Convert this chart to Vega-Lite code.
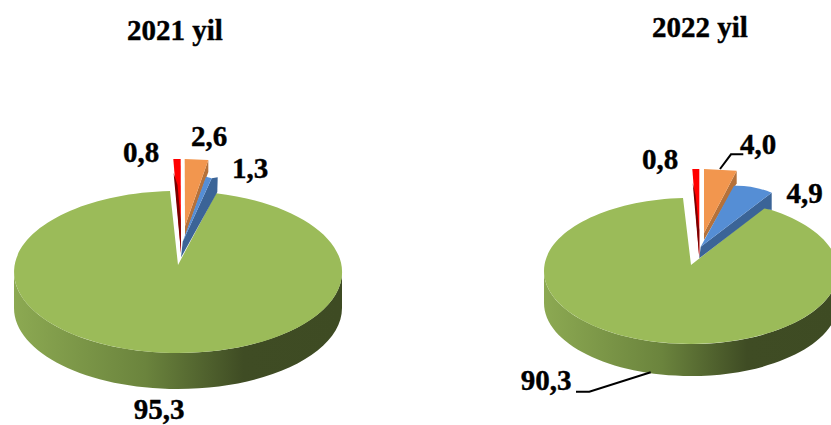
{"$schema":"https://vega.github.io/schema/vega-lite/v6.json","width":831,"height":425,"padding":0,"autosize":"none","background":"white","view":{"stroke":null},
"data":{"values":[
{"year":"2021 yil","category":"s1","value":95.3,"label":"95,3"},
{"year":"2021 yil","category":"s2","value":1.3,"label":"1,3"},
{"year":"2021 yil","category":"s3","value":2.6,"label":"2,6"},
{"year":"2021 yil","category":"s4","value":0.8,"label":"0,8"},
{"year":"2022 yil","category":"s1","value":90.3,"label":"90,3"},
{"year":"2022 yil","category":"s2","value":4.9,"label":"4,9"},
{"year":"2022 yil","category":"s3","value":4.0,"label":"4,0"},
{"year":"2022 yil","category":"s4","value":0.8,"label":"0,8"}]},
"encoding":{"x":{"field":"year","type":"nominal","axis":null,"scale":{"domain":["2021 yil","2022 yil"],"range":[178,691],"padding":0}},"y":{"field":"year","type":"nominal","axis":null,"scale":{"domain":["2021 yil","2022 yil"],"range":[265,265],"padding":0}}},
"layer":[
{"transform":[{"filter":"datum.year=='2021 yil'&&datum.category=='s1'"}],"mark":{"type":"point","filled":true,"opacity":1,"size":4,"strokeWidth":0,"fill":{"gradient":"linear","x1":0,"x2":1,"y1":0,"y2":0,"stops":[{"offset":0,"color":"#8CA952"},{"offset":0.4,"color":"#6B843D"},{"offset":0.7,"color":"#3F4C24"},{"offset":1,"color":"#3E4B23"}]},"shape":"M-164 7 L-164 43 A164 81 0 0 0 164 43 L164 7 A164 81 0 0 1 -164 7 Z"}},
{"transform":[{"filter":"datum.year=='2021 yil'&&datum.category=='s1'"}],"mark":{"type":"point","filled":true,"opacity":1,"size":4,"strokeWidth":0,"fill":"#9BBB59","shape":"M0 0 L-8 -73.9 A164 81 0 1 0 38 -71.8 Z"}},
{"transform":[{"filter":"datum.year=='2021 yil'&&datum.category=='s4'"}],"mark":{"type":"point","filled":true,"opacity":1,"size":4,"strokeWidth":0,"fill":"#FF0000","shape":"M-4.7 -106 L2.7 -106 L3 -12 Z"}},
{"transform":[{"filter":"datum.year=='2021 yil'&&datum.category=='s4'"}],"mark":{"type":"point","filled":true,"opacity":1,"size":4,"strokeWidth":0,"fill":"#7A0000","shape":"M-4.4 -92 L-0.5 -80 L2.7 -45 L3 -12 Z"}},
{"transform":[{"filter":"datum.year=='2021 yil'&&datum.category=='s3'"}],"mark":{"type":"point","filled":true,"opacity":1,"size":4,"strokeWidth":0,"fill":"#B5713A","shape":"M30.3 -105 L30.3 -93 L7 -29 L7 -39 Z"}},
{"transform":[{"filter":"datum.year=='2021 yil'&&datum.category=='s3'"}],"mark":{"type":"point","filled":true,"opacity":1,"size":4,"strokeWidth":0,"fill":"#F2964E","shape":"M6.7 -106 L30.3 -105 L7 -39 Z"}},
{"transform":[{"filter":"datum.year=='2021 yil'&&datum.category=='s2'"}],"mark":{"type":"point","filled":true,"opacity":1,"size":4,"strokeWidth":0,"fill":"#3B6497","shape":"M4.7 -23.3 L33.7 -86.7 L39.7 -87.7 L39.3 -73 L3 -7.5 Z"}},
{"transform":[{"filter":"datum.year=='2021 yil'&&datum.category=='s2'"}],"mark":{"type":"point","filled":true,"opacity":1,"size":4,"strokeWidth":0,"fill":"#558ED5","shape":"M4.7 -23.3 L28 -88.3 L33.7 -86.7 Z"}},
{"transform":[{"filter":"datum.year=='2022 yil'&&datum.category=='s1'"}],"mark":{"type":"point","filled":true,"opacity":1,"size":4,"strokeWidth":0,"fill":{"gradient":"linear","x1":0,"x2":1,"y1":0,"y2":0,"stops":[{"offset":0,"color":"#8CA952"},{"offset":0.4,"color":"#6B843D"},{"offset":0.69,"color":"#3F4C24"},{"offset":1,"color":"#3E4B23"}]},"shape":"M-147 6 L-147 38 A147 73 0 0 0 147 38 L147 6 A147 73 0 0 1 -147 6 Z"}},
{"transform":[{"filter":"datum.year=='2022 yil'&&datum.category=='s1'"}],"mark":{"type":"point","filled":true,"opacity":1,"size":4,"strokeWidth":0,"fill":"#9BBB59","shape":"M0 0 L-8 -66.89 A147 73 0 1 0 73 -57.36 Z"}},
{"transform":[{"filter":"datum.year=='2022 yil'&&datum.category=='s4'"}],"mark":{"type":"point","filled":true,"opacity":1,"size":4,"strokeWidth":0,"fill":"#FF0000","shape":"M1.3 -96 L8.3 -96 L8.3 -7 Z"}},
{"transform":[{"filter":"datum.year=='2022 yil'&&datum.category=='s4'"}],"mark":{"type":"point","filled":true,"opacity":1,"size":4,"strokeWidth":0,"fill":"#7A0000","shape":"M1.7 -82 L4.5 -70 L8.3 -35 L8.3 -7 Z"}},
{"transform":[{"filter":"datum.year=='2022 yil'&&datum.category=='s3'"}],"mark":{"type":"point","filled":true,"opacity":1,"size":4,"strokeWidth":0,"fill":"#B5713A","shape":"M45.7 -94.3 L45.7 -81.7 L13 -25 L13 -32 Z"}},
{"transform":[{"filter":"datum.year=='2022 yil'&&datum.category=='s3'"}],"mark":{"type":"point","filled":true,"opacity":1,"size":4,"strokeWidth":0,"fill":"#F2964E","shape":"M13 -96 L45.7 -94.3 L13 -32 Z"}},
{"transform":[{"filter":"datum.year=='2022 yil'&&datum.category=='s2'"}],"mark":{"type":"point","filled":true,"opacity":1,"size":4,"strokeWidth":0,"fill":"#3B6497","shape":"M9.7 -18.3 L80.7 -72.3 L80.7 -55 L73.3 -56.5 L8.3 -6.7 Z"}},
{"transform":[{"filter":"datum.year=='2022 yil'&&datum.category=='s2'"}],"mark":{"type":"point","filled":true,"opacity":1,"size":4,"strokeWidth":0,"fill":"#558ED5","shape":"M9.7 -18.3 L43 -79.3 Q62 -80 80.7 -72.3 Z"}},
{"transform":[{"filter":"datum.year=='2022 yil'&&datum.category=='s3'"}],"mark":{"type":"point","filled":false,"opacity":1,"size":4,"stroke":"black","strokeWidth":2,"shape":"M29 -96 L40 -110.7 L52.3 -110.7"}},
{"transform":[{"filter":"datum.year=='2022 yil'&&datum.category=='s1'"}],"mark":{"type":"point","filled":false,"opacity":1,"size":4,"stroke":"black","strokeWidth":2,"shape":"M-115 126.7 L-101.7 126.7 L-40.3 107.3"}},
{"transform":[{"filter":"datum.category=='s1'&&datum.year=='2021 yil'"}],"mark":{"type":"text","font":"Liberation Serif","fontWeight":"bold","fontSize":29,"color":"black","stroke":"black","strokeWidth":0.4,"dx":-3,"dy":-234},"encoding":{"text":{"field":"year"}}},
{"transform":[{"filter":"datum.category=='s1'&&datum.year=='2022 yil'"}],"mark":{"type":"text","font":"Liberation Serif","fontWeight":"bold","fontSize":29,"color":"black","stroke":"black","strokeWidth":0.4,"dx":9,"dy":-237},"encoding":{"text":{"field":"year"}}},
{"transform":[{"filter":"datum.year=='2021 yil'&&datum.category=='s1'"}],"mark":{"type":"text","font":"Liberation Serif","fontWeight":"bold","fontSize":29,"color":"black","stroke":"black","strokeWidth":0.4,"dx":-19,"dy":145},"encoding":{"text":{"field":"label"}}},
{"transform":[{"filter":"datum.year=='2021 yil'&&datum.category=='s2'"}],"mark":{"type":"text","font":"Liberation Serif","fontWeight":"bold","fontSize":29,"color":"black","stroke":"black","strokeWidth":0.4,"dx":72,"dy":-96},"encoding":{"text":{"field":"label"}}},
{"transform":[{"filter":"datum.year=='2021 yil'&&datum.category=='s3'"}],"mark":{"type":"text","font":"Liberation Serif","fontWeight":"bold","fontSize":29,"color":"black","stroke":"black","strokeWidth":0.4,"dx":31,"dy":-128},"encoding":{"text":{"field":"label"}}},
{"transform":[{"filter":"datum.year=='2021 yil'&&datum.category=='s4'"}],"mark":{"type":"text","font":"Liberation Serif","fontWeight":"bold","fontSize":29,"color":"black","stroke":"black","strokeWidth":0.4,"dx":-37,"dy":-112},"encoding":{"text":{"field":"label"}}},
{"transform":[{"filter":"datum.year=='2022 yil'&&datum.category=='s1'"}],"mark":{"type":"text","font":"Liberation Serif","fontWeight":"bold","fontSize":29,"color":"black","stroke":"black","strokeWidth":0.4,"dx":-145,"dy":116},"encoding":{"text":{"field":"label"}}},
{"transform":[{"filter":"datum.year=='2022 yil'&&datum.category=='s2'"}],"mark":{"type":"text","font":"Liberation Serif","fontWeight":"bold","fontSize":29,"color":"black","stroke":"black","strokeWidth":0.4,"dx":113.5,"dy":-71},"encoding":{"text":{"field":"label"}}},
{"transform":[{"filter":"datum.year=='2022 yil'&&datum.category=='s3'"}],"mark":{"type":"text","font":"Liberation Serif","fontWeight":"bold","fontSize":29,"color":"black","stroke":"black","strokeWidth":0.4,"dx":67,"dy":-120},"encoding":{"text":{"field":"label"}}},
{"transform":[{"filter":"datum.year=='2022 yil'&&datum.category=='s4'"}],"mark":{"type":"text","font":"Liberation Serif","fontWeight":"bold","fontSize":29,"color":"black","stroke":"black","strokeWidth":0.4,"dx":-31,"dy":-105},"encoding":{"text":{"field":"label"}}}
]}
